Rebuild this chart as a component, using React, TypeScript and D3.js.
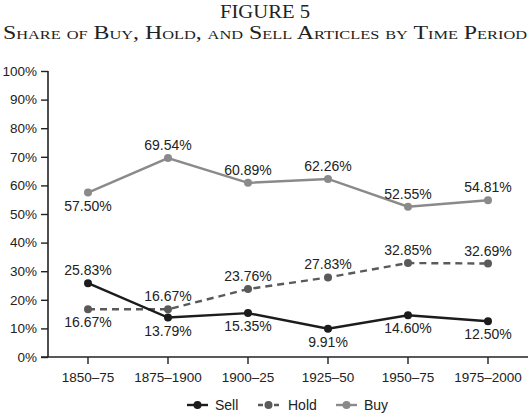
import { useEffect, useRef } from 'react';
import * as d3 from 'd3';

const periods = ['1850–75', '1875–1900', '1900–25', '1925–50', '1950–75', '1975–2000'];
const sellValues = [25.83, 13.79, 15.35, 9.91, 14.6, 12.5];
const holdValues = [16.67, 16.67, 23.76, 27.83, 32.85, 32.69];
const buyValues = [57.5, 69.54, 60.89, 62.26, 52.55, 54.81];
// label above (true) or below (false) the point
const sellAbove = [true, false, false, false, false, false];
const holdAbove = [false, true, true, true, true, true];
const buyAbove = [false, true, true, true, true, true];
const yTicks = [0, 10, 20, 30, 40, 50, 60, 70, 80, 90, 100];

interface Series {
  name: string;
  values: number[];
  above: boolean[];
  color: string;
  dash: string | null;
}

const series: Series[] = [
  { name: 'Buy', values: buyValues, above: buyAbove, color: '#8a8a8a', dash: null },
  { name: 'Hold', values: holdValues, above: holdAbove, color: '#5a5a5a', dash: '7,5' },
  { name: 'Sell', values: sellValues, above: sellAbove, color: '#1c1c1c', dash: null },
];

const legendOrder = ['Sell', 'Hold', 'Buy'];

export default function App() {
  const svgRef = useRef<SVGSVGElement>(null);
  const width = 530;
  const height = 419;

  useEffect(() => {
    if (!svgRef.current) return;
    d3.select(svgRef.current).selectAll('*').remove();

    const margin = { top: 71, right: 2, bottom: 62, left: 48 };
    const svg = d3.select(svgRef.current);
    const font = 'Liberation Sans, Arial, Helvetica, sans-serif';
    const serif = 'Liberation Serif, Times New Roman, serif';

    const x = d3.scaleBand<string>()
      .domain(periods)
      .range([margin.left, width - margin.right])
      .padding(0);
    const cx = (p: string) => (x(p) || 0) + x.bandwidth() / 2;

    const y = d3.scaleLinear()
      .domain([0, 100])
      .range([height - margin.bottom, margin.top]);

    // Title
    svg.append('text')
      .attr('x', 220)
      .attr('y', 17.5)
      .attr('font-family', serif)
      .attr('font-size', '18.5px')
      .attr('textLength', 90)
      .attr('lengthAdjust', 'spacingAndGlyphs')
      .attr('fill', '#222')
      .text('FIGURE 5');

    svg.append('text')
      .attr('x', 3)
      .attr('y', 39)
      .attr('font-family', serif)
      .attr('font-size', '19px')
      .attr('textLength', 524)
      .attr('lengthAdjust', 'spacingAndGlyphs')
      .style('font-variant', 'small-caps')
      .attr('fill', '#222')
      .text('Share of Buy, Hold, and Sell Articles by Time Period');

    // Y axis
    const yAxis = svg.append('g')
      .attr('transform', `translate(${margin.left},0)`)
      .call(d3.axisLeft(y).tickValues(yTicks).tickSize(7).tickPadding(4).tickFormat(d => `${d}%`));
    yAxis.select('.domain').attr('stroke', '#222').attr('stroke-width', 1.6)
      .attr('d', `M0,${y(100)}V${y(0)}`);
    yAxis.selectAll('.tick line').attr('stroke', '#222').attr('stroke-width', 1.4);
    yAxis.selectAll('.tick text')
      .attr('font-family', font)
      .attr('font-size', '13.5px')
      .attr('fill', '#222');

    // X axis
    const xAxis = svg.append('g')
      .attr('transform', `translate(0,${y(0)})`)
      .call(d3.axisBottom(x).tickSize(7).tickPadding(8));
    xAxis.select('.domain').attr('stroke', '#222').attr('stroke-width', 1.6)
      .attr('d', `M${margin.left - 7},0H${width - margin.right}`);
    xAxis.selectAll('.tick line').attr('stroke', '#222').attr('stroke-width', 1.4);
    xAxis.selectAll('.tick text')
      .attr('font-family', font)
      .attr('font-size', '13.5px')
      .attr('fill', '#222');

    const line = d3.line<number>()
      .x((_, i) => cx(periods[i]))
      .y(d => y(d));

    series.forEach(s => {
      const g = svg.append('g');
      g.append('path')
        .datum(s.values)
        .attr('d', line)
        .attr('fill', 'none')
        .attr('stroke', s.color)
        .attr('stroke-width', 2.4)
        .attr('stroke-dasharray', s.dash);

      g.selectAll('circle')
        .data(s.values)
        .join('circle')
        .attr('cx', (_, i) => cx(periods[i]))
        .attr('cy', d => y(d))
        .attr('r', 4)
        .attr('fill', s.color);

      g.selectAll('text')
        .data(s.values)
        .join('text')
        .attr('x', (_, i) => cx(periods[i]))
        .attr('y', (d, i) => y(d) + (s.above[i] ? -8 : 18))
        .attr('text-anchor', 'middle')
        .attr('font-family', font)
        .attr('font-size', '14px')
        .attr('fill', '#222')
        .text(d => `${d.toFixed(2)}%`);
    });

    // Legend
    const legendX = [187, 258, 336];
    const legendY = 405;
    legendOrder.forEach((name, i) => {
      const s = series.find(d => d.name === name)!;
      const lg = svg.append('g').attr('transform', `translate(${legendX[i]},${legendY})`);
      lg.append('line')
        .attr('x1', 0)
        .attr('x2', 21)
        .attr('stroke', s.color)
        .attr('stroke-width', 2.4)
        .attr('stroke-dasharray', s.dash ? '5,3' : null);
      lg.append('circle')
        .attr('cx', 10.5)
        .attr('r', 4)
        .attr('fill', s.color);
      lg.append('text')
        .attr('x', name === 'Hold' ? 30 : 28)
        .attr('y', 5)
        .attr('font-family', font)
        .attr('font-size', '14px')
        .attr('fill', '#222')
        .text(name);
    });
  }, []);

  return (
    <svg
      ref={svgRef}
      width={width}
      height={height}
      style={{ position: 'absolute', left: 0, top: 0, background: '#fff' }}
    />
  );
}
